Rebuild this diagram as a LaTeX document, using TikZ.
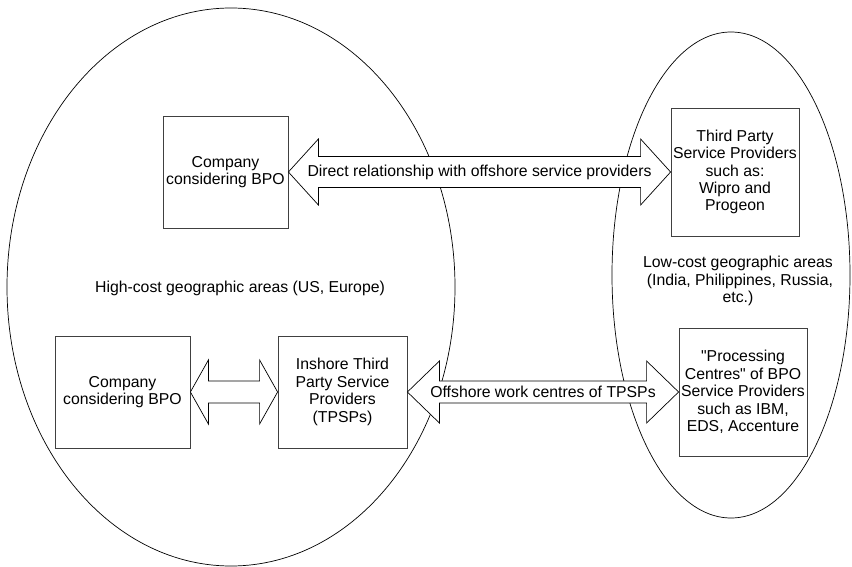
\documentclass[tikz,border=0pt]{standalone}
\usepackage{fontspec}
\setmainfont{Liberation Sans}[Ligatures=TeXOff]
\usetikzlibrary{calc,shapes.geometric}

\tikzset{
  region/.style={draw, ellipse, line width=0.7pt, inner sep=0pt},
  box/.style={draw=black!75, line width=0.8pt, fill=white, align=center, inner sep=0pt},
  txt/.style={align=center, inner sep=0pt},
  blockarrow/.style={draw, line width=0.7pt, fill=white, line join=miter},
  % two-headed block arrow between two anchors: head length, head half-width, shaft half-width
  dblarrow/.style n args={3}{
    to path={
      let \p1=(\tikztostart), \p2=(\tikztotarget) in
      (\x1,\y1) -- (\x1+#1,\y1+#2) -- (\x1+#1,\y1+#3) -- (\x2-#1,\y1+#3)
      -- (\x2-#1,\y1+#2) -- (\x2,\y1) -- (\x2-#1,\y1-#2) -- (\x2-#1,\y1-#3)
      -- (\x1+#1,\y1-#3) -- (\x1+#1,\y1-#2) -- cycle
    }
  }
}

\begin{document}
\begin{tikzpicture}[x=1pt, y=-1pt, font=\fontsize{15.8}{17.4}\selectfont]
\useasboundingbox (0,0) rectangle (852,567);

% regions
\node[region, minimum width=448pt, minimum height=558pt] (high) at (231,287) {};
\node[region, minimum width=238pt, minimum height=486pt] (low) at (731,275) {};

% boxes
\node[box, minimum width=125pt, minimum height=112pt] (co1) at (225.5,172) {Company\\considering BPO};
\node[box, minimum width=128pt, minimum height=128pt] (tp) at (735,172)
  {Third Party\\Service Providers\\such as:\\Wipro and\\Progeon};
\node[box, minimum width=135pt, minimum height=112pt] (co2) at (122.5,392) {Company\\considering BPO};
\node[box, minimum width=129pt, minimum height=112pt] (in) at (342.5,392)
  {Inshore Third\\Party Service\\Providers\\(TPSPs)};
\node[box, minimum width=128pt, minimum height=128pt] (pc) at (743,392)
  {"Processing\\Centres" of BPO\\Service Providers\\such as IBM,\\EDS, Accenture};

% connectors
\draw[blockarrow] (co1.east) to[dblarrow={30pt}{33pt}{15.5pt}] (tp.west);
\draw[blockarrow] (co2.east) to[dblarrow={18pt}{32pt}{11pt}] (in.west);
\draw[blockarrow] (in.east) to[dblarrow={32pt}{31pt}{11pt}] (pc.west);

% connector labels
\node[txt] (l1) at ($(co1.east)!0.5!(tp.west)$) {Direct relationship with offshore service providers};
\node[txt] (l2) at ($(in.east)!0.5!(pc.west)$) {Offshore work centres of TPSPs};

% region labels
\node[txt] (hl) at (240,288) {High-cost geographic areas (US, Europe)};
\node[txt] (ll) at (738,281) {Low-cost geographic areas\\\hspace*{4pt}(India, Philippines, Russia,\\etc.)};
\end{tikzpicture}
\end{document}
